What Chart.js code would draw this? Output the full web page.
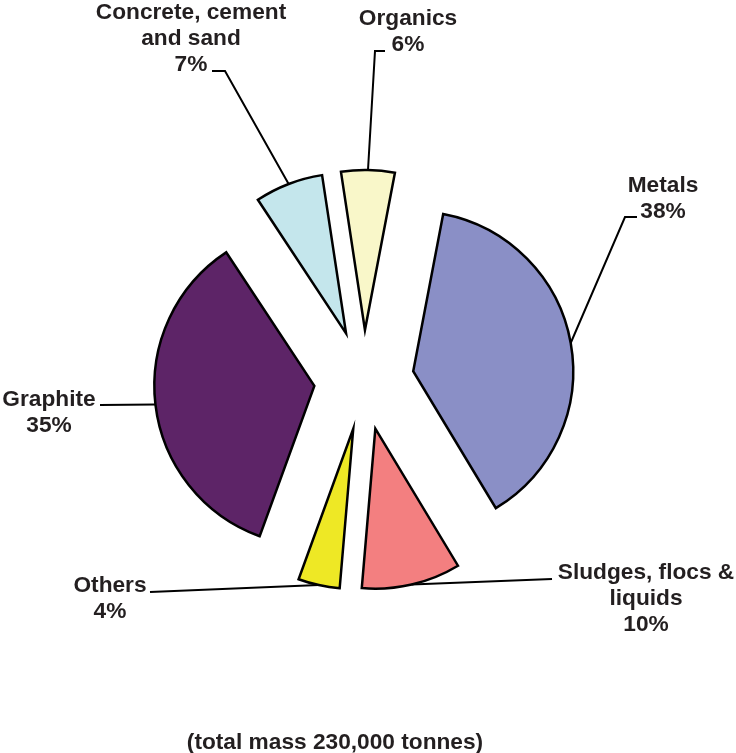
<!DOCTYPE html>
<html>
<head>
<meta charset="utf-8">
<script src="https://cdn.jsdelivr.net/npm/chart.js@4/dist/chart.umd.min.js"></script>
<style>
  html, body { margin: 0; padding: 0; background: #ffffff; }
  canvas { display: block; }
</style>
</head>
<body>
<canvas id="c" width="736" height="753"></canvas>
<script>
// ---- data ----
const categories = ['Metals', 'Sludges, flocs & liquids', 'Others', 'Graphite', 'Concrete, cement and sand', 'Organics'];
const labelLines = [['Metals'], ['Sludges, flocs &', 'liquids'], ['Others'], ['Graphite'], ['Concrete, cement', 'and sand'], ['Organics']];
const percentLabels = ['38%', '10%', '4%', '35%', '7%', '6%'];
const shares = [38.4, 10.0, 4.2, 35.2, 6.9, 5.4];
const footnote = '(total mass 230,000 tonnes)';

// ---- styles / layout ----
const colors = ['#8A8FC6', '#F37F80', '#EEE825', '#5D2467', '#C4E6EC', '#F9F7C9'];
const EXPLODE = 50;
const FONT = 'bold 22.7px "Liberation Sans", Arial, Helvetica, sans-serif';
const TEXT_COLOR = '#231F20';
const LINE_H = 26;
// label block: centre x, first baseline; leader: points after the arc anchor
const labelLayout = [
  { x: 663, y: 192, leader: [[625, 217], [637, 217]] },
  { x: 646, y: 579, leader: [[552, 579]] },
  { x: 110, y: 592, leader: [[150, 592]] },
  { x: 49,  y: 406, leader: [[100, 405]] },
  { x: 191, y: 19,  leader: [[225, 71], [212, 71]] },
  { x: 408, y: 25,  leader: [[375, 51], [385, 51]] }
];

const explodePlugin = {
  id: 'explode',
  afterDatasetUpdate(chart, args) {
    args.meta.data.forEach(arc => {
      const mid = (arc.startAngle + arc.endAngle) / 2;
      arc.x += EXPLODE * Math.cos(mid);
      arc.y += EXPLODE * Math.sin(mid);
    });
  }
};

const labelPlugin = {
  id: 'labels',
  afterDraw(chart) {
    const ctx = chart.ctx;
    const meta = chart.getDatasetMeta(0);
    ctx.save();
    ctx.strokeStyle = '#000';
    ctx.lineWidth = 2;
    ctx.lineJoin = 'miter';
    meta.data.forEach((arc, i) => {
      const mid = (arc.startAngle + arc.endAngle) / 2;
      const ax = arc.x + arc.outerRadius * Math.cos(mid);
      const ay = arc.y + arc.outerRadius * Math.sin(mid);
      const lay = labelLayout[i];
      ctx.beginPath();
      ctx.moveTo(ax, ay);
      lay.leader.forEach(p => ctx.lineTo(p[0], p[1]));
      ctx.stroke();
      ctx.fillStyle = TEXT_COLOR;
      ctx.font = FONT;
      ctx.textAlign = 'center';
      ctx.textBaseline = 'alphabetic';
      const lines = labelLines[i].concat([percentLabels[i]]);
      lines.forEach((t, k) => ctx.fillText(t, lay.x, lay.y + k * LINE_H));
    });
    ctx.fillStyle = TEXT_COLOR;
    ctx.font = FONT;
    ctx.textAlign = 'center';
    ctx.fillText(footnote, 335, 749);
    ctx.restore();
  }
};

new Chart(document.getElementById('c'), {
  type: 'pie',
  data: {
    labels: categories,
    datasets: [{
      data: shares,
      backgroundColor: colors,
      borderColor: '#000000',
      borderWidth: 2.5,
      borderJoinStyle: 'miter'
    }]
  },
  options: {
    responsive: false,
    animation: false,
    events: [],
    rotation: 10.8,
    radius: 160,
    layout: { padding: { left: 0, right: 8, top: 7, bottom: 0 } },
    plugins: {
      legend: { display: false },
      tooltip: { enabled: false },
      title: { display: false }
    }
  },
  plugins: [explodePlugin, labelPlugin]
});
</script>
</body>
</html>
